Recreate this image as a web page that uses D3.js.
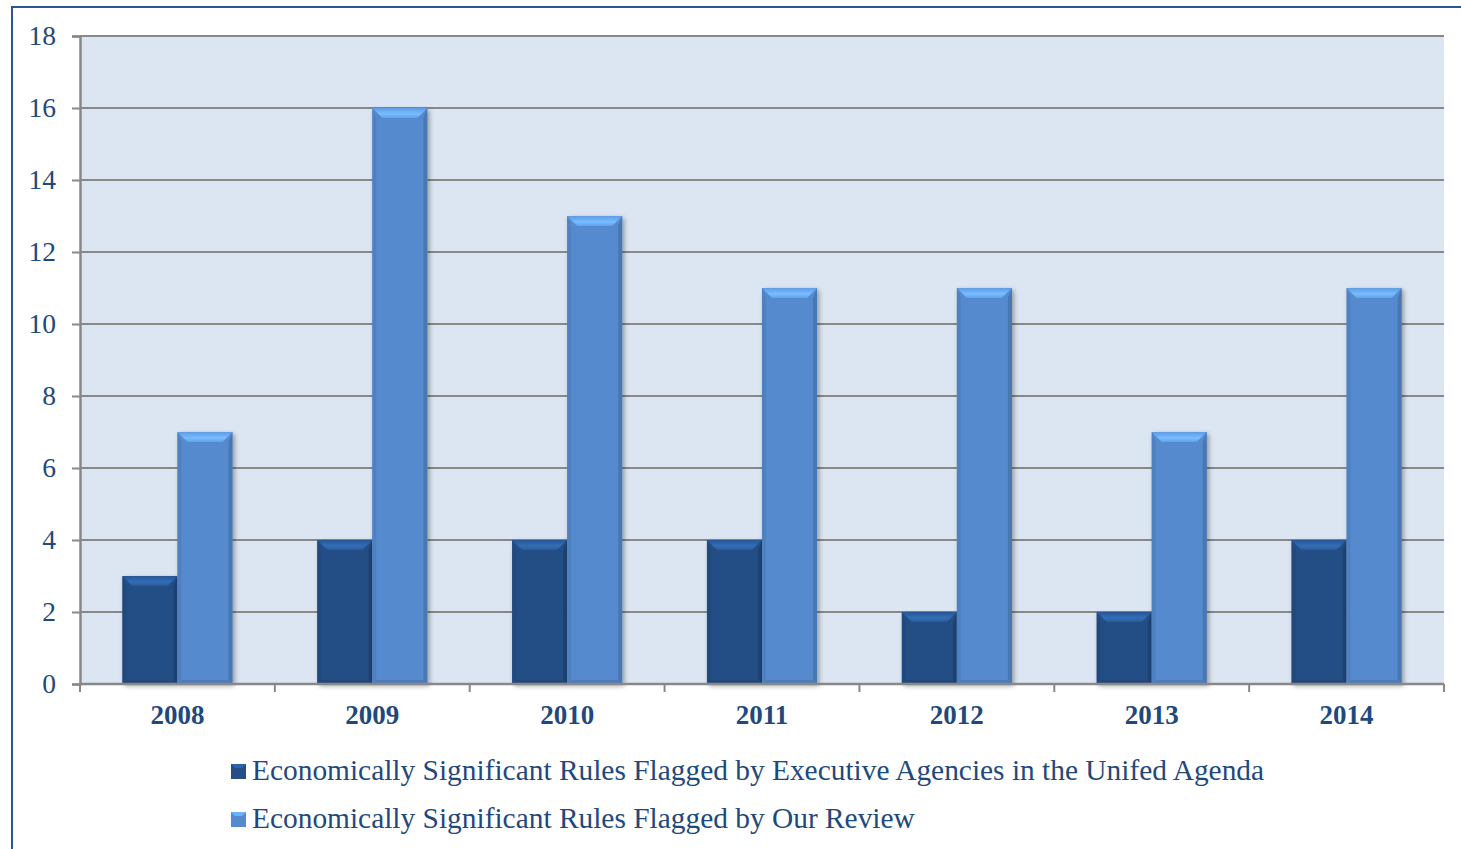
<!DOCTYPE html>
<html>
<head>
<meta charset="utf-8">
<script src="https://cdn.jsdelivr.net/npm/d3@7"></script>
<style>
    body { margin: 0; background: #fff; }
    svg { display: block; font-family: "Liberation Serif", "Times New Roman", serif; }
</style>
</head>
<body>
<div id="chart"></div>
<script>
var years = ["2008", "2009", "2010", "2011", "2012", "2013", "2014"];
var agencyFlagged = [3, 4, 4, 4, 2, 2, 4];
var reviewFlagged = [7, 16, 13, 11, 11, 7, 11];
var seriesNames = [
    "Economically Significant Rules Flagged by Executive Agencies in the Unifed Agenda",
    "Economically Significant Rules Flagged by Our Review"
];
var yTicks = [0, 2, 4, 6, 8, 10, 12, 14, 16, 18];

var width = 1461, height = 849;
var margin = {left: 80, top: 36, right: 17, bottom: 165};
var textColor = "#1f497d";
var serif = "'Liberation Serif', 'Times New Roman', serif";
var barColors = ["#244e85", "#568ace"];

var svg = d3.select("#chart").append("svg")
    .attr("width", width)
    .attr("height", height);

var defs = svg.append("defs");
var shadow = defs.append("filter").attr("id", "shadow")
    .attr("x", "-20%").attr("y", "-5%").attr("width", "150%").attr("height", "115%");
shadow.append("feGaussianBlur").attr("in", "SourceAlpha").attr("stdDeviation", 2.5);
shadow.append("feOffset").attr("dx", 2).attr("dy", 2).attr("result", "b");
shadow.append("feComponentTransfer").append("feFuncA").attr("type", "linear").attr("slope", 0.35);
var merge = shadow.append("feMerge");
merge.append("feMergeNode");
merge.append("feMergeNode").attr("in", "SourceGraphic");

// top bevel gradients
barColors.forEach(function(c, i) {
    var g = defs.append("linearGradient").attr("id", "top" + i)
        .attr("x1", 0).attr("y1", 0).attr("x2", 0).attr("y2", 1);
    g.append("stop").attr("offset", "0%").attr("stop-color", d3.color(c).brighter(0.3));
    g.append("stop").attr("offset", "60%").attr("stop-color", d3.color(c).brighter(0.9));
    g.append("stop").attr("offset", "100%").attr("stop-color", d3.color(c).brighter(0.4));
});

// outer frame (right/bottom edges are cut off in the original)
svg.append("path")
    .attr("d", "M12," + height + "V7H" + width)
    .attr("fill", "none")
    .attr("stroke", "#2a5591")
    .attr("stroke-width", 2);

var x0 = d3.scaleBand()
    .domain(years)
    .range([margin.left, width - margin.right]);

var x1 = d3.scaleBand()
    .domain([0, 1])
    .range([0, x0.bandwidth()])
    .paddingOuter(0.77);

var y = d3.scaleLinear()
    .domain([0, 18])
    .range([height - margin.bottom, margin.top]);

var plotW = width - margin.right - margin.left;

svg.append("rect")
    .attr("x", margin.left)
    .attr("y", margin.top)
    .attr("width", plotW)
    .attr("height", y(0) - margin.top)
    .attr("fill", "#dce6f2");

// gridlines
svg.append("g").selectAll("line")
    .data(yTicks.slice(1))
    .enter().append("line")
    .attr("x1", margin.left)
    .attr("x2", width - margin.right)
    .attr("y1", function(d) { return y(d); })
    .attr("y2", function(d) { return y(d); })
    .attr("stroke", "#888")
    .attr("stroke-width", 2);

// y axis
var yAxis = svg.append("g")
    .attr("transform", "translate(" + margin.left + ",0)")
    .call(d3.axisLeft(y).tickValues(yTicks).tickSize(8).tickPadding(16))
    .attr("font-family", serif)
    .attr("font-size", 27.5);
yAxis.selectAll("line").attr("stroke", "#888").attr("stroke-width", 2);
yAxis.select(".domain").attr("stroke", "#888").attr("stroke-width", 2.5);
yAxis.selectAll("text")
    .attr("fill", textColor)
    .attr("dy", "0.30em")
    .style("font-family", serif);

// bars
var data = years.map(function(yr, i) { return {year: yr, values: [agencyFlagged[i], reviewFlagged[i]]}; });

var groups = svg.append("g").selectAll("g")
    .data(data)
    .enter().append("g")
    .attr("transform", function(d) { return "translate(" + x0(d.year) + ",0)"; });

var bars = groups.selectAll("g")
    .data(function(d) { return d.values.map(function(v, k) { return {k: k, v: v}; }); })
    .enter().append("g")
    .attr("filter", "url(#shadow)");

function bevel(sel) {
    var b = 10;
    sel.append("rect")
        .attr("x", function(d) { return x1(d.k); })
        .attr("y", function(d) { return y(d.v); })
        .attr("width", x1.bandwidth())
        .attr("height", function(d) { return y(0) - y(d.v); })
        .attr("fill", function(d) { return barColors[d.k]; });
    // top bevel
    sel.append("path")
        .attr("d", function(d) {
            var xa = x1(d.k), xb = xa + x1.bandwidth(), t = y(d.v);
            return "M" + xa + "," + t + "H" + xb + "L" + (xb - b) + "," + (t + b) + "H" + (xa + b) + "Z";
        })
        .attr("fill", function(d) { return "url(#top" + d.k + ")"; });
    // right side
    sel.append("path")
        .attr("d", function(d) {
            var xb = x1(d.k) + x1.bandwidth(), t = y(d.v), bt = y(0);
            return "M" + xb + "," + t + "V" + bt + "L" + (xb - 4) + "," + (bt - 4) + "V" + (t + b) + "Z";
        })
        .attr("fill", function(d) { return d3.color(barColors[d.k]).darker(0.6); })
        .attr("opacity", 0.7);
    // left side
    sel.append("path")
        .attr("d", function(d) {
            var xa = x1(d.k), t = y(d.v), bt = y(0);
            return "M" + xa + "," + t + "V" + bt + "L" + (xa + 4) + "," + (bt - 4) + "V" + (t + b) + "Z";
        })
        .attr("fill", function(d) { return d3.color(barColors[d.k]).darker(0.3); })
        .attr("opacity", 0.6);
    // bottom
    sel.append("path")
        .attr("d", function(d) {
            var xa = x1(d.k), xb = xa + x1.bandwidth(), bt = y(0);
            return "M" + xa + "," + bt + "H" + xb + "L" + (xb - 4) + "," + (bt - 4) + "H" + (xa + 4) + "Z";
        })
        .attr("fill", function(d) { return d3.color(barColors[d.k]).darker(0.5); })
        .attr("opacity", 0.6);
}
bars.call(bevel);

// x axis
var xAxis = svg.append("g")
    .attr("transform", "translate(0," + y(0) + ")");
xAxis.append("line")
    .attr("x1", margin.left).attr("x2", width - margin.right)
    .attr("stroke", "#888").attr("stroke-width", 2.5);
xAxis.selectAll(".tk")
    .data(years.concat(["end"]))
    .enter().append("line")
    .attr("x1", function(d, i) { return i < years.length ? x0(d) : x0.range()[1]; })
    .attr("x2", function(d, i) { return i < years.length ? x0(d) : x0.range()[1]; })
    .attr("y1", 0).attr("y2", 8)
    .attr("stroke", "#888").attr("stroke-width", 2);
xAxis.selectAll("text")
    .data(years)
    .enter().append("text")
    .attr("x", function(d) { return x0(d) + x0.bandwidth() / 2; })
    .attr("y", 40)
    .attr("text-anchor", "middle")
    .attr("fill", textColor)
    .attr("font-family", serif)
    .attr("font-size", 27)
    .attr("font-weight", "bold")
    .text(function(d) { return d; });

// legend
var legend = svg.append("g").attr("transform", "translate(231,0)");
var items = legend.selectAll("g")
    .data(seriesNames)
    .enter().append("g")
    .attr("transform", function(d, i) { return "translate(0," + (771 + i * 48) + ")"; });
items.append("rect")
    .attr("x", 0).attr("y", -7)
    .attr("width", 15).attr("height", 15)
    .attr("fill", function(d, i) { return barColors[i]; });
items.append("path")
    .attr("d", "M0,-7H15L11,-3H4Z")
    .attr("fill", function(d, i) { return d3.color(barColors[i]).brighter(0.7); });
items.append("text")
    .attr("x", 21)
    .attr("y", 9)
    .attr("fill", textColor)
    .attr("font-family", serif)
    .attr("font-size", 29.4)
    .text(function(d) { return d; });
</script>
</body>
</html>
